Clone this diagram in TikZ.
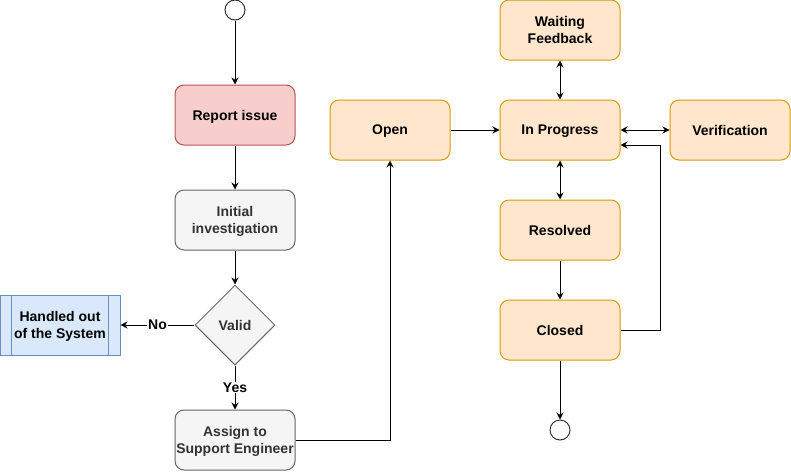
\documentclass[tikz,border=0pt]{standalone}
\usepackage{fontspec}
\setmainfont{Liberation Sans}
\usetikzlibrary{shapes.geometric,arrows.meta}
\definecolor{redfill}{HTML}{F8CECC}
\definecolor{redline}{HTML}{B85450}
\definecolor{greyfill}{HTML}{F5F5F5}
\definecolor{greyline}{HTML}{666666}
\definecolor{greytext}{HTML}{333333}
\definecolor{bluefill}{HTML}{DAE8FC}
\definecolor{blueline}{HTML}{6C8EBF}
\definecolor{orangefill}{HTML}{FFE6CC}
\definecolor{orangeline}{HTML}{D79B00}
\begin{document}
\begin{tikzpicture}[x=1pt,y=-1pt,line width=1pt,
  font=\fontsize{14}{17}\selectfont\bfseries,
  box/.style={rectangle, rounded corners=9pt, minimum width=120pt, minimum height=60pt, align=center, inner sep=1pt, text depth=0pt},
  reportbox/.style={box, fill=redfill, draw=redline},
  greybox/.style={box, fill=greyfill, draw=greyline, text=greytext},
  statebox/.style={box, fill=orangefill, draw=orangeline},
  outbox/.style={rectangle, minimum width=120pt, minimum height=60pt, align=center, fill=bluefill, draw=blueline, inner sep=1pt, text depth=0pt},
  decide/.style={diamond, aspect=1, minimum width=80pt, minimum height=80pt, inner sep=0pt, fill=greyfill, draw=greyline, text=greytext},
  term/.style={circle, minimum size=20pt, inner sep=0pt, draw=greytext, fill=white},
  lbl/.style={fill=white, inner sep=1pt},
  arr/.style={-{Stealth[length=7pt,width=7pt]}},
  dbl/.style={{Stealth[length=7pt,width=7pt]}-{Stealth[length=7pt,width=7pt]}}]
\useasboundingbox (0,0) rectangle (791,471);
% left column
\node[term] (start) at (235,10){};
\node[reportbox] (report) at (235,115){Report issue};
\node[greybox] (investigate) at (235,220){Initial\\investigation};
\node[decide] (valid) at (235,325){Valid};
\node[outbox] (handled) at (60,325){Handled out\\of the System};
\draw[blueline] ([xshift=12pt]handled.north west) -- ([xshift=12pt]handled.south west);
\draw[blueline] ([xshift=-12pt]handled.north east) -- ([xshift=-12pt]handled.south east);
\node[greybox] (assign) at (235,440){Assign to\\Support Engineer};
\draw[arr](start) -- (report);
\draw[arr](report) -- (investigate);
\draw[arr](investigate) -- (valid);
\draw[arr](valid) -- node[lbl] (no) {No} (handled);
\draw[arr](valid) -- node[lbl, pos=0.5] (yes) {Yes} (assign);
% states
\node[statebox] (open) at (390,130){Open};
\node[statebox] (progress) at (560,130){In Progress};
\node[statebox] (waiting) at (560,30){Waiting\\Feedback};
\node[statebox] (verify) at (730,130){Verification};
\node[statebox] (resolved) at (560,230){Resolved};
\node[statebox] (closed) at (560,330){Closed};
\node[term] (finish) at (560,430){};
\draw[arr](assign) -| (open);
\draw[arr](open) -- (progress);
\draw[dbl](waiting) -- (progress);
\draw[dbl](progress) -- (verify);
\draw[dbl](progress) -- (resolved);
\draw[arr](resolved) -- (closed);
\draw[arr](closed.east) -| ([xshift=40pt,yshift=-15pt]progress.east) -- ([yshift=-15pt]progress.east);
\draw[arr](closed) -- (finish);
\end{tikzpicture}
\end{document}
